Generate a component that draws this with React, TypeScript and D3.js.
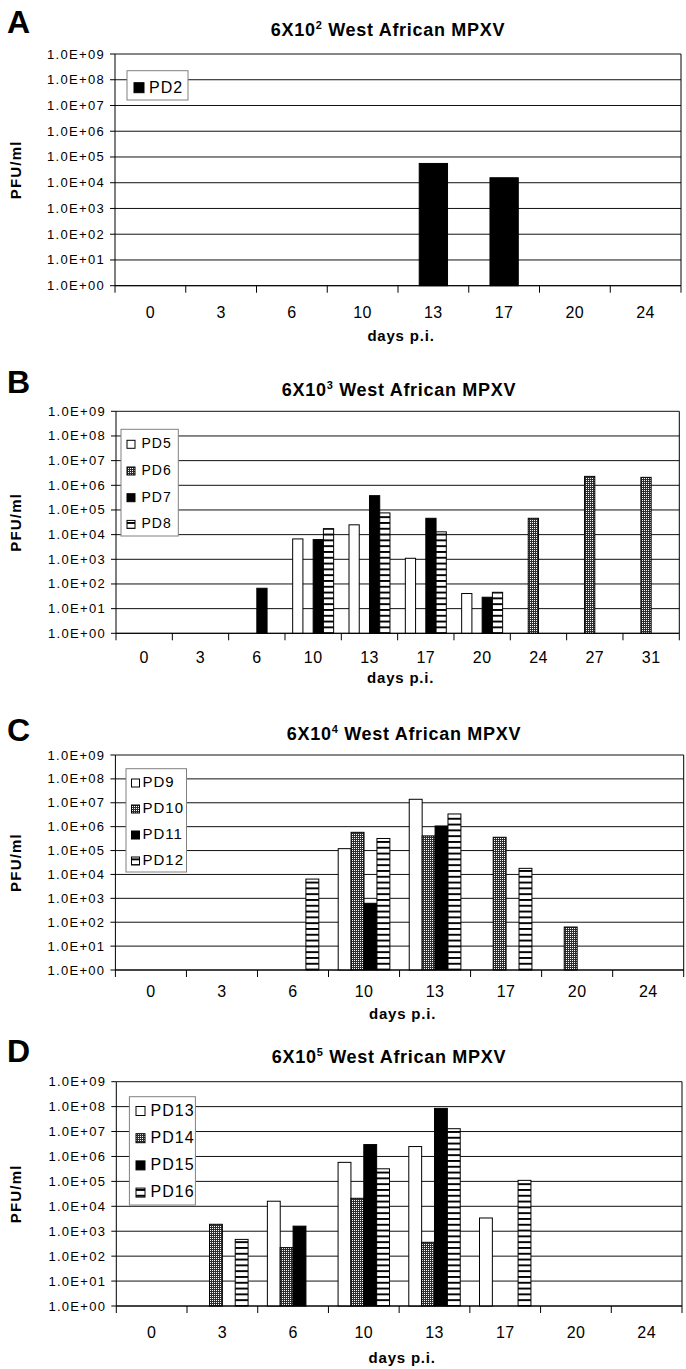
import React from 'react';
import * as d3 from 'd3';

// values (PFU/ml), null = nothing detected
const daysA = [0, 3, 6, 10, 13, 17, 20, 24];
const seriesA = ['PD2'];
const pd2 = [null, null, null, null, 5.6e4, 1.56e4, null, null];

const daysB = [0, 3, 6, 10, 13, 17, 20, 24, 27, 31];
const seriesB = ['PD5', 'PD6', 'PD7', 'PD8'];
const pd5 = [null, null, null, 6.7e3, 2.5e4, 1.1e3, 41, null, null, null];
const pd6 = [null, null, null, null, null, null, null, 4.6e4, 2.3e6, 2.1e6];
const pd7 = [null, null, 67, 6.3e3, 3.8e5, 4.6e4, 29, null, null, null];
const pd8 = [null, null, null, 1.75e4, 7.6e4, 1.3e4, 46, null, null, null];

const daysC = [0, 3, 6, 10, 13, 17, 20, 24];
const seriesC = ['PD9', 'PD10', 'PD11', 'PD12'];
const pd9 = [null, null, null, 1.2e5, 1.4e7, null, null, null];
const pd10 = [null, null, null, 5.8e5, 4.1e5, 3.6e5, 63, null];
const pd11 = [null, null, null, 6.2e2, 1.07e6, null, null, null];
const pd12 = [null, null, 6.4e3, 3.2e5, 3.4e6, 1.8e4, null, null];

const daysD = [0, 3, 6, 10, 13, 17, 20, 24];
const seriesD = ['PD13', 'PD14', 'PD15', 'PD16'];
const pd13 = [null, null, 1.6e4, 5.8e5, 2.5e6, 3.4e3, null, null];
const pd14 = [null, 1.9e3, 2.2e2, 2.1e4, 3.6e2, null, null, null];
const pd15 = [null, null, 1.6e3, 3.0e6, 8.5e7, null, null, null];
const pd16 = [null, 4.7e2, null, 3.2e5, 1.3e7, 1.1e5, null, null];

const yTickValues = [1e0, 1e1, 1e2, 1e3, 1e4, 1e5, 1e6, 1e7, 1e8, 1e9];
const yTickLabels = ['1.0E+00', '1.0E+01', '1.0E+02', '1.0E+03', '1.0E+04',
  '1.0E+05', '1.0E+06', '1.0E+07', '1.0E+08', '1.0E+09'];

const titleExps = ['2', '3', '4', '5'];
const letters = ['A', 'B', 'C', 'D'];

const FONT = '"Liberation Sans", Arial, Helvetica, sans-serif';
const fillFor: Record<string, string> = {
  white: '#fff',
  checker: 'url(#checker)',
  black: '#000',
  stripe: 'url(#stripe)',
};

interface Legend {
  x: number; y: number; w: number; h: number;
  sx: number; ss: number; tx: number; b0: number; step: number; fs: number;
}

interface PanelCfg {
  letter: string;
  exp: string;
  days: number[];
  series: string[];
  values: (number | null)[][];
  fills: string[];
  left: number; right: number; top: number; bottom: number;
  letterY: number; titleX: number; titleY: number;
  tickY: number; daysY: number;
  legend: Legend;
}

const panels: PanelCfg[] = [
  {
    letter: letters[0], exp: titleExps[0], days: daysA, series: seriesA,
    values: [pd2], fills: ['black'],
    left: 115, right: 681, top: 54, bottom: 285.7,
    letterY: 33, titleX: 388, titleY: 36, tickY: 318, daysY: 341,
    legend: { x: 127, y: 70.7, w: 61, h: 29.3, sx: 134, ss: 10, tx: 149, b0: 92.7, step: 0, fs: 16 },
  },
  {
    letter: letters[1], exp: titleExps[1], days: daysB, series: seriesB,
    values: [pd5, pd6, pd7, pd8], fills: ['white', 'checker', 'black', 'stripe'],
    left: 116, right: 679.3, top: 411.3, bottom: 633.3,
    letterY: 393, titleX: 399, titleY: 396, tickY: 663, daysY: 683,
    legend: { x: 121, y: 429.3, w: 57.3, h: 106.7, sx: 127, ss: 8, tx: 141.5, b0: 448.3, step: 26.7, fs: 14 },
  },
  {
    letter: letters[2], exp: titleExps[2], days: daysC, series: seriesC,
    values: [pd9, pd10, pd11, pd12], fills: ['white', 'checker', 'black', 'stripe'],
    left: 115.4, right: 683.7, top: 755, bottom: 970,
    letterY: 741, titleX: 404, titleY: 740, tickY: 997, daysY: 1019,
    legend: { x: 126, y: 768.7, w: 60.5, h: 103.3, sx: 131.5, ss: 8, tx: 142.5, b0: 787, step: 26, fs: 15 },
  },
  {
    letter: letters[3], exp: titleExps[3], days: daysD, series: seriesD,
    values: [pd13, pd14, pd15, pd16], fills: ['white', 'checker', 'black', 'stripe'],
    left: 116.3, right: 682, top: 1081.7, bottom: 1306,
    letterY: 1062, titleX: 389, titleY: 1063, tickY: 1338, daysY: 1363,
    legend: { x: 129.4, y: 1096.7, w: 66, h: 108.3, sx: 136, ss: 9, tx: 150.5, b0: 1115.5, step: 27.2, fs: 16 },
  },
];

const Panel: React.FC<{ cfg: PanelCfg }> = ({ cfg }) => {
  const x = d3.scaleBand<number>()
    .domain(cfg.days)
    .range([cfg.left, cfg.right])
    .paddingInner(0)
    .paddingOuter(0);

  // Excel style: bars of one category touch, 150% gap between categories
  const inner = d3.scaleBand<string>()
    .domain(cfg.series)
    .range([0, x.bandwidth()])
    .paddingInner(0)
    .paddingOuter(0.75);

  const y = d3.scaleLog()
    .domain([yTickValues[0], yTickValues[yTickValues.length - 1]])
    .range([cfg.bottom, cfg.top]);

  const boundaries = [...cfg.days.map(d => x(d) as number), cfg.right];
  const midX = (cfg.left + cfg.right) / 2;
  const L = cfg.legend;

  return (
    <g>
      <text x={7} y={cfg.letterY} fontSize={32} fontWeight="bold" fontFamily={FONT}>{cfg.letter}</text>
      <text x={cfg.titleX} y={cfg.titleY} fontSize={18} fontWeight="bold" fontFamily={FONT}
        textAnchor="middle" letterSpacing={0.7}>
        6X10<tspan fontSize={11} dy={-7}>{cfg.exp}</tspan><tspan dy={7}> West African MPXV</tspan>
      </text>

      {/* grid lines */}
      {yTickValues.map(v => (
        <line key={v} x1={cfg.left} x2={cfg.right} y1={y(v)} y2={y(v)} stroke="#111" strokeWidth={1} />
      ))}

      {/* bars */}
      {cfg.series.map((name, si) =>
        cfg.values[si].map((v, di) => {
          if (v == null) return null;
          const bx = (x(cfg.days[di]) as number) + (inner(name) as number);
          return (
            <rect key={name + di} x={bx} y={y(v)} width={inner.bandwidth()} height={y(1) - y(v)}
              fill={fillFor[cfg.fills[si]]} stroke="#000" strokeWidth={1} />
          );
        })
      )}

      {/* frame */}
      <line x1={cfg.left} x2={cfg.left} y1={cfg.top} y2={cfg.bottom} stroke="#000" />
      <line x1={cfg.right} x2={cfg.right} y1={cfg.top} y2={cfg.bottom} stroke="#000" />
      <line x1={cfg.left} x2={cfg.right} y1={cfg.bottom} y2={cfg.bottom} stroke="#000" />

      {/* y ticks */}
      {yTickValues.map((v, i) => (
        <g key={'yt' + v}>
          <line x1={cfg.left - 5} x2={cfg.left} y1={y(v)} y2={y(v)} stroke="#000" />
          <text x={cfg.left - 10} y={y(v) + 4.5} fontSize={13} fontFamily={FONT}
            textAnchor="end" letterSpacing={1.3}>{yTickLabels[i]}</text>
        </g>
      ))}

      {/* x ticks */}
      {boundaries.map((bx, i) => (
        <line key={'xt' + i} x1={bx} x2={bx} y1={cfg.bottom} y2={cfg.bottom + 7} stroke="#000" />
      ))}
      {cfg.days.map(d => (
        <text key={'xl' + d} x={(x(d) as number) + x.bandwidth() / 2} y={cfg.tickY}
          fontSize={16} fontFamily={FONT} textAnchor="middle" letterSpacing={0.4}>{d}</text>
      ))}

      <text x={midX + 3} y={cfg.daysY} fontSize={15} fontWeight="bold" fontFamily={FONT}
        textAnchor="middle" letterSpacing={0.8}>days p.i.</text>

      <text transform={`translate(21,${(cfg.top + cfg.bottom) / 2}) rotate(-90)`} fontSize={15}
        fontWeight="bold" fontFamily={FONT} textAnchor="middle" letterSpacing={1.2}>PFU/ml</text>

      {/* legend */}
      <rect x={L.x} y={L.y} width={L.w} height={L.h} fill="#fff" stroke="#808080" strokeWidth={1} />
      {cfg.series.map((name, si) => {
        const base = L.b0 + si * L.step;
        return (
          <g key={'lg' + name}>
            <rect x={L.sx} y={base - L.ss} width={L.ss} height={L.ss}
              fill={fillFor[cfg.fills[si]]} stroke="#000" strokeWidth={1} />
            <text x={L.tx} y={base} fontSize={L.fs} fontFamily={FONT} letterSpacing={1}>{name}</text>
          </g>
        );
      })}
    </g>
  );
};

export default function App() {
  return (
    <svg width={686} height={1369} viewBox="0 0 686 1369"
      style={{ position: 'absolute', left: 0, top: 0, display: 'block', background: '#fff' }}>
      <defs>
        <pattern id="checker" width={2} height={2} patternUnits="userSpaceOnUse">
          <rect width={2} height={2} fill="#2e2e2e" />
          <rect width={1} height={1} fill="#fff" />
        </pattern>
        <pattern id="stripe" width={6} height={5.8} patternUnits="userSpaceOnUse">
          <rect width={6} height={5.8} fill="#fff" />
          <rect y={0} width={6} height={1.9} fill="#000" />
        </pattern>
      </defs>
      <rect width={686} height={1369} fill="#fff" />
      {panels.map(p => <Panel key={p.letter} cfg={p} />)}
    </svg>
  );
}
